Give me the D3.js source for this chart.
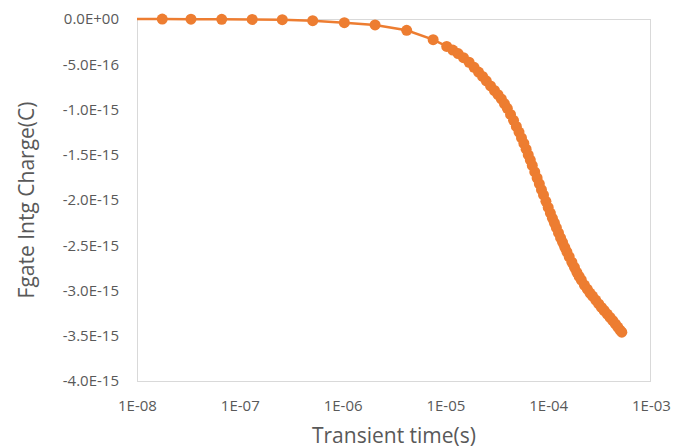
<!DOCTYPE html>
<html>
<head>
<meta charset="utf-8">
<script src="https://cdn.jsdelivr.net/npm/d3@7"></script>
<style>
  body { margin: 0; background: #fff; }
  text { font-family: "Open Sans", sans-serif; fill: #595959; }
</style>
</head>
<body>
<div id="chart-container"></div>
<script>
// transient time (s)
const timeS = [
  8e-9, 1.76e-8, 3.35e-8, 6.67e-8, 1.32e-7, 2.59e-7, 5.12e-7, 1.04e-6, 2.07e-6, 4.2e-6,
  7.6e-6, 1.03e-5, 1.18e-5, 1.33e-5, 1.5e-5, 1.7e-5, 1.9e-5, 2.1e-5, 2.3e-5, 2.5e-5,
  2.75e-5, 3.0e-5, 3.25e-5, 3.5e-5, 3.75e-5, 4.0e-5, 4.3e-5, 4.6e-5, 4.9e-5, 5.2e-5,
  5.5e-5, 5.8e-5, 6.1e-5, 6.4e-5, 6.7e-5, 7.0e-5, 7.4e-5, 7.8e-5, 8.2e-5, 8.6e-5,
  9.0e-5, 9.5e-5, 1.0e-4, 1.05e-4, 1.1e-4, 1.15e-4, 1.2e-4, 1.26e-4, 1.32e-4, 1.38e-4,
  1.45e-4, 1.52e-4, 1.6e-4, 1.7e-4, 1.8e-4, 1.9e-4, 2.0e-4, 2.1e-4, 2.25e-4, 2.4e-4,
  2.55e-4, 2.7e-4, 2.9e-4, 3.1e-4, 3.3e-4, 3.5e-4, 3.75e-4, 4.0e-4, 4.25e-4, 4.5e-4,
  4.75e-4, 5.0e-4, 5.2e-4
];

// floating gate integrated charge (C)
const chargeC = [
  0, -0.001e-15, -0.002e-15, -0.003e-15, -0.005e-15, -0.008e-15, -0.019e-15, -0.041e-15, -0.066e-15, -0.125e-15,
  -0.228e-15, -0.303e-15, -0.343e-15, -0.382e-15, -0.427e-15, -0.478e-15, -0.534e-15, -0.586e-15, -0.635e-15, -0.683e-15,
  -0.739e-15, -0.790e-15, -0.836e-15, -0.883e-15, -0.934e-15, -0.987e-15, -1.054e-15, -1.119e-15, -1.187e-15, -1.249e-15,
  -1.314e-15, -1.375e-15, -1.439e-15, -1.502e-15, -1.559e-15, -1.618e-15, -1.690e-15, -1.757e-15, -1.821e-15, -1.886e-15,
  -1.944e-15, -2.014e-15, -2.082e-15, -2.144e-15, -2.202e-15, -2.254e-15, -2.305e-15, -2.364e-15, -2.419e-15, -2.468e-15,
  -2.523e-15, -2.573e-15, -2.627e-15, -2.688e-15, -2.744e-15, -2.799e-15, -2.845e-15, -2.884e-15, -2.940e-15, -2.985e-15,
  -3.028e-15, -3.062e-15, -3.106e-15, -3.148e-15, -3.187e-15, -3.221e-15, -3.261e-15, -3.298e-15, -3.333e-15, -3.369e-15,
  -3.404e-15, -3.438e-15, -3.460e-15
];

const xTicks = [1e-8, 1e-7, 1e-6, 1e-5, 1e-4, 1e-3];
const xTickLabels = ['1E-08', '1E-07', '1E-06', '1E-05', '1E-04', '1E-03'];
const yTicks = [0, -0.5e-15, -1.0e-15, -1.5e-15, -2.0e-15, -2.5e-15, -3.0e-15, -3.5e-15, -4.0e-15];
const yTickLabels = ['0.0E+00', '-5.0E-16', '-1.0E-15', '-1.5E-15', '-2.0E-15', '-2.5E-15', '-3.0E-15', '-3.5E-15', '-4.0E-15'];

const W = 685, H = 448;
const margin = { top: 19, right: 34, bottom: 67, left: 137 };
const width = W - margin.left - margin.right,
      height = H - margin.top - margin.bottom;
const orange = '#ED7D31';

const svg = d3.select('#chart-container')
  .append('svg')
  .attr('width', W)
  .attr('height', H);

const g = svg.append('g')
  .attr('transform', `translate(${margin.left},${margin.top})`);

const x = d3.scaleLog().domain([1e-8, 1e-3]).range([0, width]);
const y = d3.scaleLinear().domain([-4e-15, 0]).range([height, 0]);

// plot area border
g.append('rect')
  .attr('x', 0.5).attr('y', 0.5)
  .attr('width', width - 1).attr('height', height)
  .attr('fill', 'none')
  .attr('stroke', '#D9D9D9');

// y axis labels
const yAxis = g.append('g')
  .call(d3.axisLeft(y).tickValues(yTicks).tickSize(0).tickPadding(18)
    .tickFormat((d, i) => yTickLabels[i]));
yAxis.select('.domain').remove();
yAxis.selectAll('text').style('font-size', '15px').attr('fill', '#595959');

// x axis labels
const xAxis = g.append('g')
  .attr('transform', `translate(0,${height})`)
  .call(d3.axisBottom(x).tickValues(xTicks).tickSize(0).tickPadding(19)
    .tickFormat((d, i) => xTickLabels[i]));
xAxis.select('.domain').remove();
xAxis.selectAll('text').style('font-size', '15px').attr('fill', '#595959');

// clip only horizontally, markers may sit on the top edge
svg.append('clipPath').attr('id', 'clip')
  .append('rect')
  .attr('x', 0).attr('y', -margin.top)
  .attr('width', width).attr('height', H);

const data = timeS.map((t, i) => ({ t: t, q: chargeC[i] }));
const plot = g.append('g').attr('clip-path', 'url(#clip)');

const line = d3.line()
  .x(d => x(d.t))
  .y(d => y(d.q));

plot.append('path')
  .datum(data)
  .attr('d', line)
  .attr('fill', 'none')
  .attr('stroke', orange)
  .attr('stroke-width', 2.5);

plot.selectAll('circle')
  .data(data)
  .enter()
  .append('circle')
  .attr('cx', d => x(d.t))
  .attr('cy', d => y(d.q))
  .attr('r', 5.5)
  .attr('fill', orange);

// axis titles
svg.append('text')
  .attr('x', margin.left + width / 2)
  .attr('y', 443)
  .attr('text-anchor', 'middle')
  .style('font-size', '21px')
  .text('Transient time(s)');

svg.append('text')
  .attr('transform', `translate(34,${margin.top + height / 2}) rotate(-90)`)
  .attr('text-anchor', 'middle')
  .style('font-size', '21px')
  .text('Fgate Intg Charge(C)');
</script>
</body>
</html>
